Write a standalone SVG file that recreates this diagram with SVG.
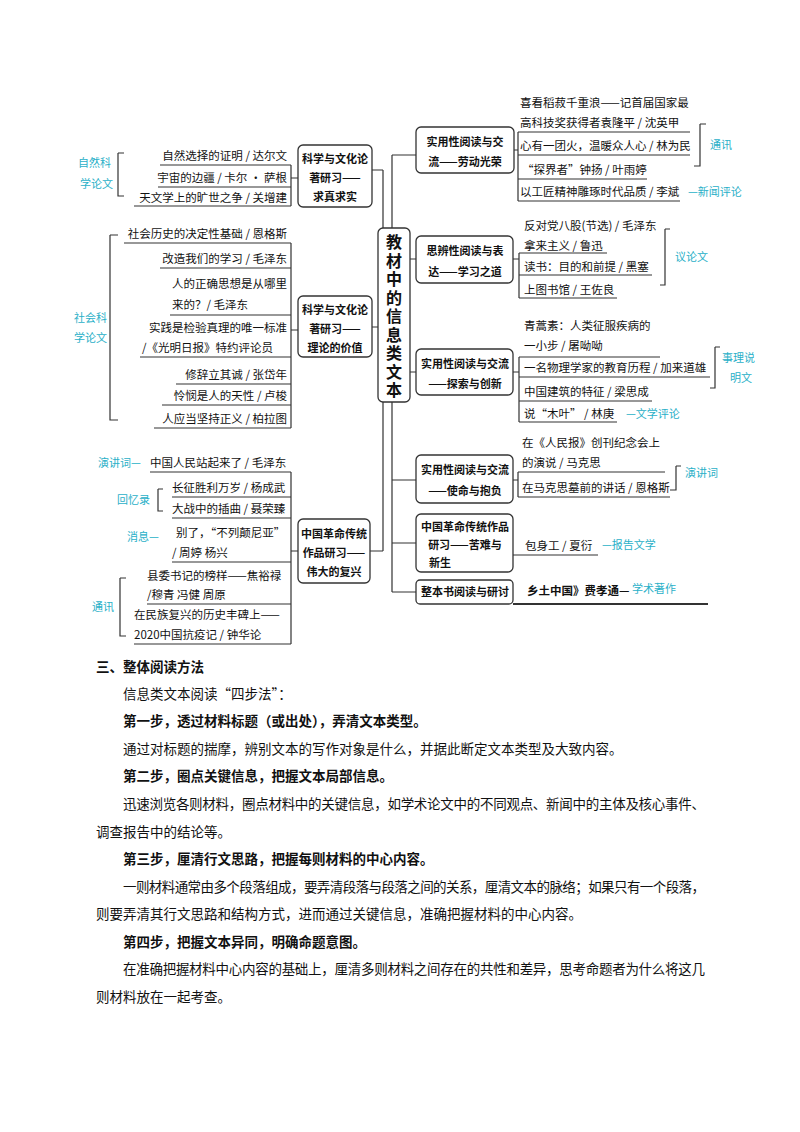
<svg xmlns="http://www.w3.org/2000/svg" width="800" height="1132" viewBox="0 0 800 1132">
<style>
text{font-family:"Noto Sans CJK SC","Liberation Sans",sans-serif;fill:#111}
.l{font-size:11.5px}
.le{font-size:11.5px;text-anchor:end}
.n{font-size:11px;font-weight:bold;text-anchor:middle}
.c{font-size:11px;fill:#2ab0c8}
.b{fill:#fff;stroke:#333;stroke-width:1.3}
.w{fill:none;stroke:#333;stroke-width:1.2}
.p{font-size:13.5px}
.pb{font-size:13.5px;font-weight:bold}
</style>
<rect width="800" height="1132" fill="#fff"/>
<g id="connectors" class="w">
<path d="M383 170V551M372 170H383M372 327H383M370 551H383"/>
<path d="M392 155V592M392 155H416M392 259H416M392 372H416M392 480H416M392 543H416M392 592H416"/>
<path d="M160 165H291M158 187H291M134 206H291M291 165V206M291 178H298"/>
<path d="M124 243H291M160 268H291M170 315H291M140 357H291M176 384H291M162 405H291M154 428H291M291 243V428M291 330H298"/>
<path d="M150 472H291M172 497H291M172 518H291M172 562H291M147 604H291M134 644H291M291 472V644M291 551H298"/>
<path d="M118 153H124M118 153V196H124M110 235H118M110 235V420H118M158 489H163M158 489V511H163M120 578H126M120 578V636H126"/>
<path d="M518 132H690M518 155H690M518 179H647M518 201H680M518 132V201M514 150H518"/>
<path d="M700 124H706M700 124V166H694"/>
<path d="M519 253H607M519 275H652M519 298H617M519 253V298M513 259H519M665 229H670M665 229V285H660"/>
<path d="M519 357H660M519 377H710M519 401H652M519 422H617M519 357V422M513 372H519M715 347H720M715 347V388H710"/>
<path d="M518 472H665M518 497H670M518 472V497M513 480H518M676 466H681M676 466V490H670"/>
<path d="M513 555H598"/>
<path d="M513 604H708" stroke-width="2"/>
</g>
<g id="center"><rect class="b" x="378" y="228" width="32" height="174" rx="5"/>
<text x="394" y="234" writing-mode="vertical-rl" font-size="16" font-weight="bold" letter-spacing="2.5">教材中的信息类文本</text></g>
<g id="n1"><rect class="b" x="298" y="145" width="74" height="62" rx="5"/><text class="n" x="335" y="163">科学与文化论</text><text class="n" x="335" y="182">著研习——</text><text class="n" x="335" y="201">求真求实</text></g>
<g id="n2"><rect class="b" x="298" y="296" width="74" height="61" rx="5"/><text class="n" x="335" y="314">科学与文化论</text><text class="n" x="335" y="333">著研习——</text><text class="n" x="335" y="352">理论的价值</text></g>
<g id="n3"><rect class="b" x="298" y="519" width="72" height="64" rx="5"/><text class="n" x="334" y="538">中国革命传统</text><text class="n" x="334" y="557">作品研习——</text><text class="n" x="334" y="576">伟大的复兴</text></g>
<g id="r1"><rect class="b" x="416" y="127" width="98" height="46" rx="5"/><text class="n" x="465" y="146">实用性阅读与交</text><text class="n" x="465" y="166">流——劳动光荣</text></g>
<g id="r2"><rect class="b" x="416" y="236" width="97" height="47" rx="5"/><text class="n" x="465" y="255">思辨性阅读与表</text><text class="n" x="465" y="276">达——学习之道</text></g>
<g id="r3"><rect class="b" x="416" y="349" width="97" height="46" rx="5"/><text class="n" x="465" y="368">实用性阅读与交流</text><text class="n" x="465" y="388">——探索与创新</text></g>
<g id="r4"><rect class="b" x="416" y="455" width="97" height="48" rx="5"/><text class="n" x="465" y="474">实用性阅读与交流</text><text class="n" x="465" y="495">——使命与抱负</text></g>
<g id="r5"><rect class="b" x="416" y="514" width="97" height="58" rx="5"/><text class="n" x="465" y="531">中国革命传统作品</text><text class="n" x="465" y="549">研习——苦难与</text><text class="n" x="440" y="567">新生</text></g>
<g id="r6"><rect class="b" x="416" y="580" width="97" height="24" rx="4"/><text class="n" x="465" y="596">整本书阅读与研讨</text></g>
<g id="leaves">
<text class="le" x="287" y="160">自然选择的证明 / 达尔文</text>
<text class="le" x="287" y="182">宇宙的边疆 / 卡尔 · 萨根</text>
<text class="le" x="287" y="202">天文学上的旷世之争 / 关增建</text>
<text class="c" x="78" y="167">自然科</text><text class="c" x="80" y="188">学论文</text>
<text class="le" x="287" y="238">社会历史的决定性基础 / 恩格斯</text>
<text class="le" x="287" y="263">改造我们的学习 / 毛泽东</text>
<text class="l" x="172" y="288">人的正确思想是从哪里</text>
<text class="l" x="172" y="309">来的？/ 毛泽东</text>
<text class="le" x="287" y="332">实践是检验真理的唯一标准</text>
<text class="l" x="142" y="352">/《光明日报》特约评论员</text>
<text class="le" x="287" y="379">修辞立其诚 / 张岱年</text>
<text class="le" x="287" y="400">怜悯是人的天性 / 卢梭</text>
<text class="le" x="287" y="423">人应当坚持正义 / 柏拉图</text>
<text class="c" x="74" y="322">社会科</text><text class="c" x="74" y="342">学论文</text>
<text class="c" x="98" y="467">演讲词—</text>
<text class="l" x="150" y="467">中国人民站起来了 / 毛泽东</text>
<text class="c" x="117" y="504">回忆录</text>
<text class="l" x="172" y="492">长征胜利万岁 / 杨成武</text>
<text class="l" x="172" y="513">大战中的插曲 / 聂荣臻</text>
<text class="c" x="127" y="541">消息—</text>
<text class="l" x="176" y="537">别了，“不列颠尼亚”</text>
<text class="l" x="172" y="557">/ 周婷 杨兴</text>
<text class="l" x="147" y="580">县委书记的榜样——焦裕禄</text>
<text class="l" x="147" y="599">/穆青 冯健 周原</text>
<text class="l" x="134" y="619">在民族复兴的历史丰碑上——</text>
<text class="l" x="134" y="639">2020中国抗疫记 / 钟华论</text>
<text class="c" x="92" y="611">通讯</text>
<text class="l" x="520" y="107">喜看稻菽千重浪——记首届国家最</text>
<text class="l" x="520" y="127">高科技奖获得者袁隆平 / 沈英甲</text>
<text class="l" x="520" y="150">心有一团火，温暖众人心 / 林为民</text>
<text class="l" x="522" y="174">“探界者”钟扬 / 叶雨婷</text>
<text class="l" x="520" y="196">以工匠精神雕琢时代品质 / 李斌</text>
<text class="c" x="688" y="196">—新闻评论</text>
<text class="c" x="710" y="149">通讯</text>
<text class="l" x="524" y="230">反对党八股(节选) / 毛泽东</text>
<text class="l" x="524" y="250">拿来主义 / 鲁迅</text>
<text class="l" x="524" y="271">读书：目的和前提 / 黑塞</text>
<text class="l" x="524" y="294">上图书馆 / 王佐良</text>
<text class="c" x="675" y="261">议论文</text>
<text class="l" x="524" y="330">青蒿素：人类征服疾病的</text>
<text class="l" x="524" y="350">一小步 / 屠呦呦</text>
<text class="l" x="524" y="372">一名物理学家的教育历程 / 加来道雄</text>
<text class="l" x="524" y="396">中国建筑的特征 / 梁思成</text>
<text class="l" x="524" y="418">说“木叶” / 林庚</text>
<text class="c" x="626" y="418">—文学评论</text>
<text class="c" x="722" y="362">事理说</text><text class="c" x="730" y="382">明文</text>
<text class="l" x="522" y="447">在《人民报》创刊纪念会上</text>
<text class="l" x="522" y="467">的演说 / 马克思</text>
<text class="l" x="522" y="492">在马克思墓前的讲话 / 恩格斯</text>
<text class="c" x="685" y="477">演讲词</text>
<text class="l" x="525" y="550">包身工 / 夏衍</text>
<text class="c" x="602" y="549">—报告文学</text>
<text class="l" x="527" y="595" font-weight="bold">乡土中国》费孝通—</text>
<text class="c" x="632" y="593">学术著作</text>
</g>
<g id="body">
<text class="pb" x="96" y="672">三、整体阅读方法</text>
<text class="p" x="123" y="699">信息类文本阅读“四步法”：</text>
<text class="pb" x="123" y="726">第一步，透过材料标题（或出处），弄清文本类型。</text>
<text class="p" x="123" y="754">通过对标题的揣摩，辨别文本的写作对象是什么，并据此断定文本类型及大致内容。</text>
<text class="pb" x="123" y="781">第二步，圈点关键信息，把握文本局部信息。</text>
<text class="p" x="123" y="809" textLength="582">迅速浏览各则材料，圈点材料中的关键信息，如学术论文中的不同观点、新闻中的主体及核心事件、</text>
<text class="p" x="96" y="837">调查报告中的结论等。</text>
<text class="pb" x="123" y="864">第三步，厘清行文思路，把握每则材料的中心内容。</text>
<text class="p" x="123" y="892" textLength="582">一则材料通常由多个段落组成，要弄清段落与段落之间的关系，厘清文本的脉络；如果只有一个段落，</text>
<text class="p" x="96" y="919">则要弄清其行文思路和结构方式，进而通过关键信息，准确把握材料的中心内容。</text>
<text class="pb" x="123" y="947">第四步，把握文本异同，明确命题意图。</text>
<text class="p" x="123" y="974" textLength="582">在准确把握材料中心内容的基础上，厘清多则材料之间存在的共性和差异，思考命题者为什么将这几</text>
<text class="p" x="96" y="1002">则材料放在一起考查。</text>
</g>
</svg>
